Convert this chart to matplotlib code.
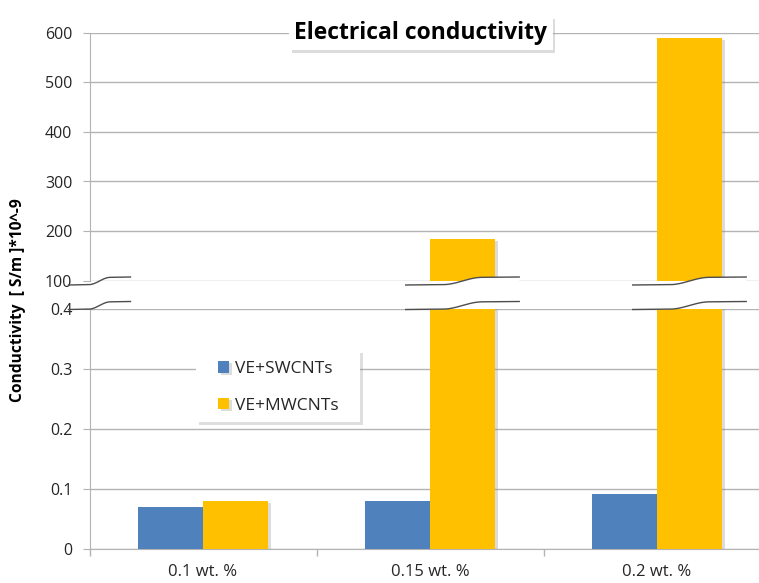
import matplotlib
matplotlib.use("Agg")
import matplotlib.pyplot as plt
import matplotlib.patheffects as pe
import matplotlib.transforms as mtrans
from matplotlib.patches import Rectangle
import numpy as np

categories = ["0.1 wt. %", "0.15 wt. %", "0.2 wt. %"]
series_names = ["VE+SWCNTs", "VE+MWCNTs"]
swcnt = [0.07, 0.08, 0.092]
mwcnt = [0.08, 185, 590]
top_ticks = [100, 200, 300, 400, 500, 600]
bottom_ticks = [0, 0.1, 0.2, 0.3, 0.4]
bottom_ticklabels = ["0", "0.1", "0.2", "0.3", "0.4"]
ylabel = "Conductivity  [ S/m ]*10^-9"
title = "Electrical conductivity"

plt.rcParams['font.family'] = ['Open Sans', 'DejaVu Sans']

W, H = 759, 583
fig = plt.figure(figsize=(W / 100, H / 100), dpi=100)

def fx(px):
    return px / W

def fy(py):
    return 1 - py / H

left_px, right_px = 89.5, 759
top_ax = fig.add_axes([fx(left_px), fy(280.7), fx(right_px) - fx(left_px), fy(32.7) - fy(280.7)])
bot_ax = fig.add_axes([fx(left_px), fy(549), fx(right_px) - fx(left_px), fy(309) - fy(549)])

blue = "#4F81BD"
yellow = "#FFC000"
grid_c = "#b3b3b3"
text_c = "#262626"
x = np.arange(len(categories))
bw = 0.286
shadow = [pe.SimplePatchShadow(offset=(2.5, -1.5), shadow_rgbFace="#8c8c8c", alpha=0.3), pe.Normal()]

xlim = (-0.5, -0.5 + (right_px - left_px) / 227.0)
for ax in (top_ax, bot_ax):
    b1 = ax.bar(x - bw / 2, swcnt, bw, color=blue, zorder=3, label=series_names[0])
    b2 = ax.bar(x + bw / 2, mwcnt, bw, color=yellow, zorder=3, label=series_names[1])
    for r in list(b1) + list(b2):
        r.set_path_effects(shadow)
    for s in ("top", "right", "bottom"):
        ax.spines[s].set_visible(False)
    ax.spines["left"].set_color(grid_c)
    ax.grid(axis="y", color=grid_c, linewidth=1, zorder=0)
    ax.set_axisbelow(True)
    ax.tick_params(axis="y", length=5.3, color=grid_c, labelsize=11.5, labelcolor=text_c, pad=7)

top_ax.set_ylim(100, 600)
top_ax.set_yticks(top_ticks)
top_ax.set_xticks([])

bot_ax.set_ylim(0, 0.4)
bot_ax.set_yticks(bottom_ticks)
bot_ax.set_yticklabels(bottom_ticklabels)
bot_ax.set_xticks(x)
bot_ax.set_xticklabels(categories)
bot_ax.tick_params(axis="x", which="major", length=0, labelsize=12, labelcolor=text_c, pad=10.5)
bot_ax.set_xticks(np.arange(len(categories)) - 0.5, minor=True)
bot_ax.tick_params(axis="x", which="minor", length=5, color=grid_c, width=1)
bot_ax.spines["bottom"].set_visible(True)
bot_ax.spines["bottom"].set_color(grid_c)
top_ax.set_xlim(*xlim)
bot_ax.set_xlim(*xlim)

# break marks
def s_curve(xs, c, rise, k):
    t = np.clip((xs - c) / k, -1, 1)
    return rise * (0.5 + 0.5 * np.sin(t * np.pi / 2))

trans = mtrans.blended_transform_factory(bot_ax.transData, fig.transFigure)

def break_mark(c, hw, fill=True):
    xs = np.linspace(c - hw, c + hw, 300)
    k = hw * 0.35
    tilt = (xs - (c - hw)) / (2 * hw)
    up = fy(285) + s_curve(xs, c, fy(278) - fy(285), k) + tilt * (fy(284) - fy(285))
    lo = fy(309.5) + s_curve(xs, c, fy(302.5) - fy(309.5), k) + tilt * (fy(308.5) - fy(309.5))
    if fill:
        fig.patches.append(plt.Polygon(np.column_stack([np.r_[xs, xs[::-1]], np.r_[up, lo[::-1]]]),
                                       closed=True, transform=trans, facecolor="white",
                                       edgecolor="none", zorder=10))
    for yy in (up, lo):
        fig.lines.append(plt.Line2D(xs, yy, transform=trans, color="#4d4d4d", linewidth=1.0, zorder=11))

break_mark(xlim[0] + 10 / 227.0, 31 / 227.0, fill=False)
for i, v in enumerate(mwcnt):
    if v > bottom_ticks[-1]:
        break_mark(x[i] + bw / 2, 0.25)

# legend (entries placed, box drawn around with Excel-like padding)
leg = bot_ax.legend(loc="upper left", bbox_to_anchor=(fx(218), fy(361)), bbox_transform=fig.transFigure,
                    borderaxespad=0, fontsize=12.5, frameon=False, handlelength=0.62, handleheight=0.62,
                    handletextpad=0.35, labelspacing=1.2, borderpad=0)
for t in leg.get_texts():
    t.set_color(text_c)
leg.set_zorder(12)
fig.canvas.draw()
bb = leg.get_window_extent()
box = Rectangle((bb.x0 - 22, bb.y0 - 8), bb.width + 22 + 22, bb.height + 8 + 10.5,
                transform=None, facecolor="white", edgecolor="none", zorder=11.5, clip_on=False)
box.set_path_effects([pe.SimplePatchShadow(offset=(2, -2), shadow_rgbFace="#8c8c8c", alpha=0.28), pe.Normal()])
bot_ax.add_artist(box)

# title
tt = fig.text(fx(421), fy(33), title, ha="center", va="center", fontsize=16.5, fontweight="bold",
              color="black", zorder=20,
              bbox=dict(boxstyle="square,pad=0.22", facecolor="white", edgecolor="none"))
tt.get_bbox_patch().set_path_effects([pe.SimplePatchShadow(offset=(2, -2), shadow_rgbFace="#8c8c8c", alpha=0.3), pe.Normal()])

fig.text(fx(18.5), fy(300), ylabel, rotation=90, ha="center", va="center", fontsize=11.2,
         fontweight="bold", color="black")

fig.savefig("out.png", dpi=100)
